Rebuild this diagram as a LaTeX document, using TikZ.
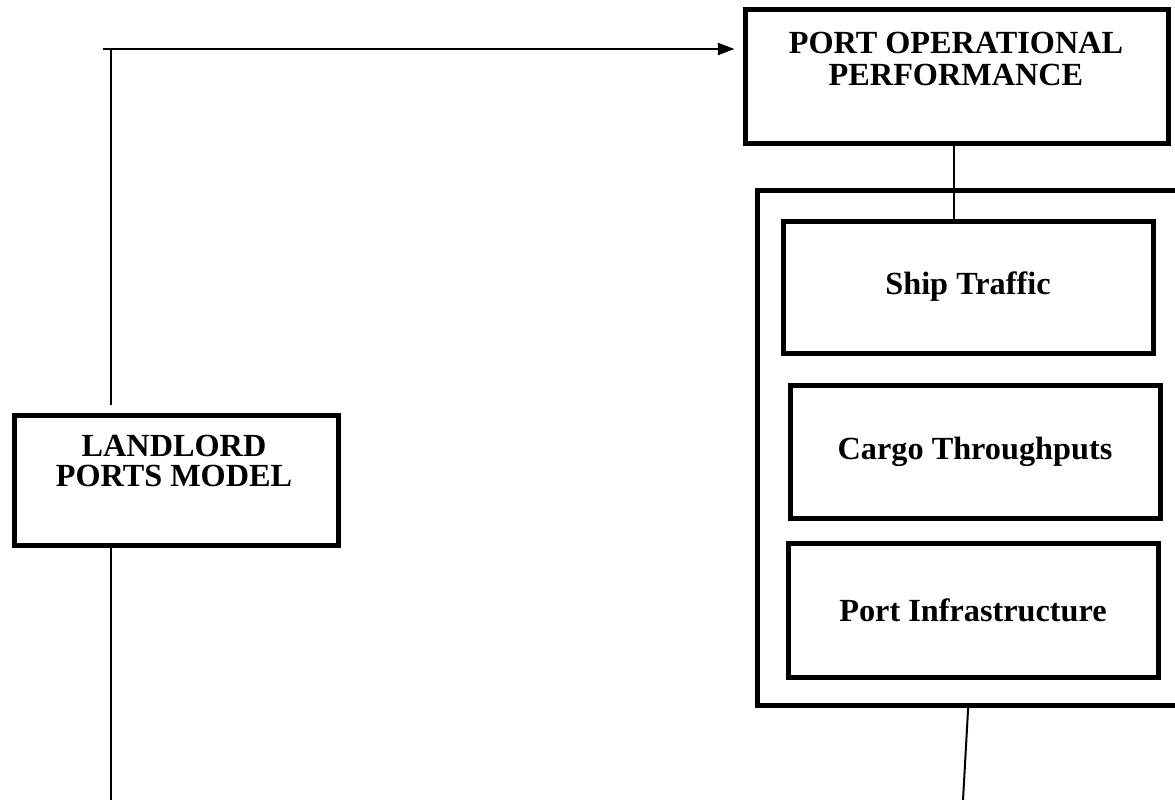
\documentclass[tikz,border=0pt]{standalone}
\usepackage{fontspec}
\setmainfont{Liberation Serif}
\usepackage{tikz}
\usetikzlibrary{arrows.meta}

\begin{document}
\begin{tikzpicture}[x=0.75pt, y=-0.75pt,
  >={Triangle[length=12.5pt, width=9pt]},
  box/.style={draw, line width=3.75pt, inner sep=0pt, minimum width=277.5pt},
  wire/.style={line width=1.5pt},
  lbl/.style={font=\bfseries\fontsize{24.2}{24}\selectfont, align=center}]

\useasboundingbox (0,0) rectangle (1175,800);
\clip (0,0) rectangle (1175,800);

\node[box, minimum width=243pt, minimum height=97.5pt] (ll) at (176,480) {};
\node[lbl] (lltxt) at (174,461) {LANDLORD\\[-1.5pt]PORTS MODEL};

\node[box, minimum width=317.25pt, minimum height=100.5pt] (pop) at (956.5,76) {};
\node[lbl] (poptxt) at (956,59) {PORT OPERATIONAL\\PERFORMANCE};

\node[box, minimum width=324.75pt, minimum height=386.25pt] (grp) at (973.5,447.5) {};
\node[box, lbl, minimum height=99pt] (ship) at (968,287) {Ship Traffic};
\node[box, lbl, minimum height=99.75pt] (cargo) at (975,451.5) {Cargo Throughputs};
\node[box, lbl, minimum height=100.5pt] (infra) at (973,610) {Port Infrastructure};

\coordinate (tl) at (103,49);
\coordinate (up) at (111,405);
\coordinate (lb) at (111,800);
\coordinate (gb) at (963,800);

\draw[wire] (up) -- (up |- tl);
\draw[wire, ->, shorten >=6pt] (tl) -- (tl -| pop.west);
\draw[wire] (lb |- ll.south) -- (lb);
\draw[wire] ([xshift=-1.8pt]pop.south) -- ([xshift=-1.8pt]pop.south |- ship.north);
\draw[wire] ([xshift=-4pt]grp.south) -- (gb);
\end{tikzpicture}
\end{document}
